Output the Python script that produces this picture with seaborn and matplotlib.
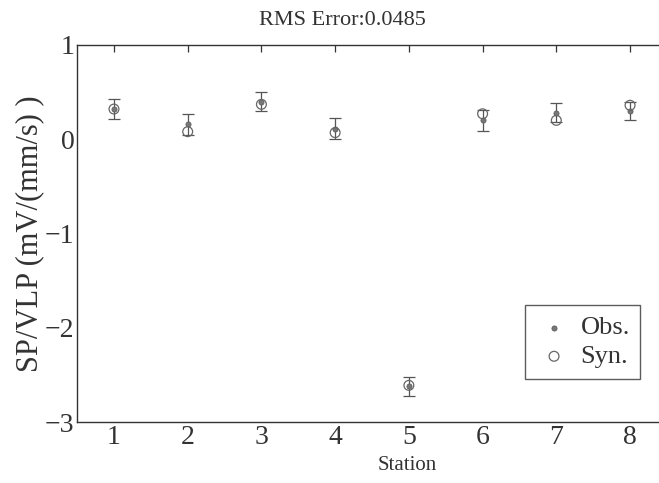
#Station amplitude ratio plot: observed vs synthetic
import numpy as np
import matplotlib
matplotlib.use('Agg')
import matplotlib.pyplot as plt
import seaborn as sns
import pandas as pd

stations = [1, 2, 3, 4, 5, 6, 7, 8]
obs = [0.32, 0.16, 0.40, 0.11, -2.62, 0.20, 0.28, 0.30]
obs_err = [0.11, 0.11, 0.10, 0.11, 0.10, 0.11, 0.10, 0.10]
syn = [0.32, 0.08, 0.37, 0.07, -2.61, 0.27, 0.20, 0.36]

df = pd.DataFrame({'Station': stations, 'Obs': obs, 'Syn': syn, 'err': obs_err})

sns.set_style('white')
plt.rcParams['font.family'] = ['Liberation Serif', 'DejaVu Serif']

fig = plt.figure(figsize=(6.59, 4.83), dpi=100)
ax = fig.add_axes([0.117, 0.126, 0.895, 0.781])

ink = '#333333'
ax.errorbar(df['Station'], df['Obs'], yerr=df['err'], fmt='none',
            ecolor='#555555', elinewidth=0.9, capsize=4, capthick=0.9, zorder=2)
sns.scatterplot(data=df, x='Station', y='Obs', ax=ax, marker='o', s=14,
                color='#777777', edgecolor='#555555', linewidth=0.5,
                label='Obs.', zorder=3)
sns.scatterplot(data=df, x='Station', y='Syn', ax=ax, marker='o', s=50,
                facecolor='none', edgecolor='#666666', linewidth=0.9,
                label='Syn.', zorder=4)

ax.set_xlim(0.5, 8.5)
ax.set_ylim(-3, 1)
ax.set_xticks(stations)
ax.set_yticks([-3, -2, -1, 0, 1])
ax.set_yticklabels(['\u22123', '\u22122', '\u22121', '0', '1'])
ax.tick_params(direction='in', length=5, width=0.9, colors=ink, labelsize=20,
               top=True, right=True, pad=2)
for s in ax.spines.values():
    s.set_color(ink)
    s.set_linewidth(1.0)

ax.set_xlabel('Station', fontsize=15, color=ink)
ax.xaxis.set_label_coords(0.56, -0.09)
ax.set_ylabel('SP/VLP (mV/(mm/s) )', fontsize=22, color=ink)
ax.yaxis.set_label_coords(-0.055, 0.5)
ax.set_title('RMS Error:0.0485', fontsize=16, color=ink, pad=14, x=0.45)

leg = ax.legend(loc='lower right', bbox_to_anchor=(0.955, 0.115), fontsize=19,
                frameon=True, fancybox=False, edgecolor=ink, handletextpad=0.3,
                borderpad=0.4, labelspacing=0.2, handlelength=1.4,
                borderaxespad=0.0)
leg.get_frame().set_linewidth(1.0)
for t in leg.get_texts():
    t.set_color(ink)

plt.savefig('out.png', dpi=100)
